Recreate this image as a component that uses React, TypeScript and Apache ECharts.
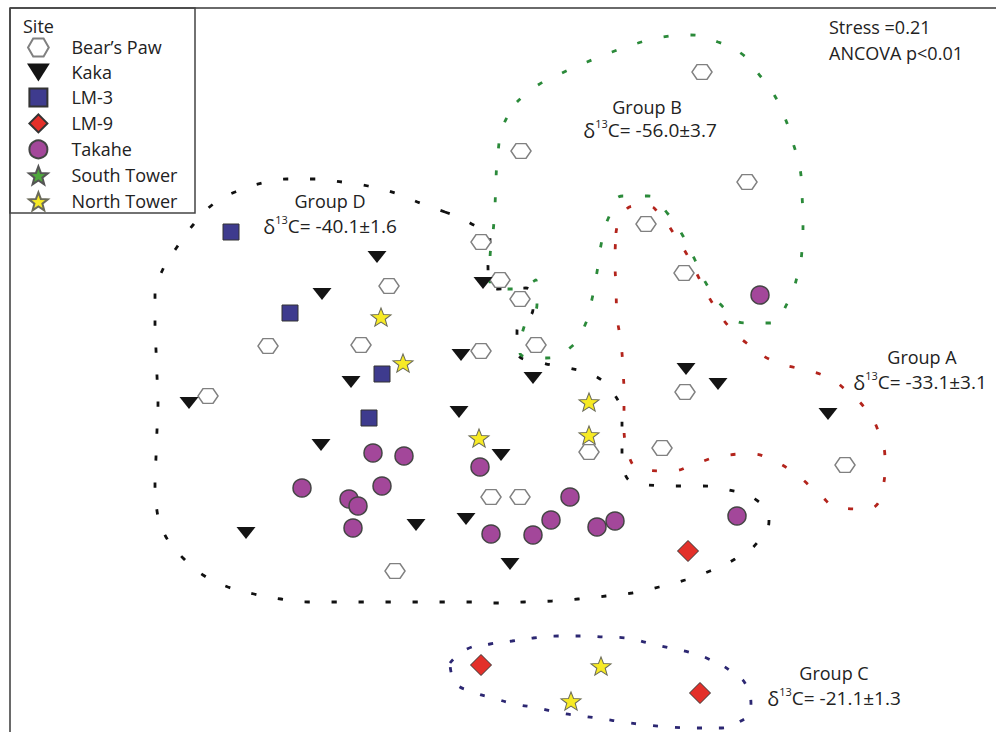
import React, { useEffect, useRef } from 'react';
import * as echarts from 'echarts';

// ---- Data (NMDS ordination, arbitrary plot units) ----
const siteNames = ['Bear’s Paw', 'Kaka', 'LM-3', 'LM-9', 'Takahe', 'South Tower', 'North Tower'];

const bearsPaw = [
  [208, 396], [268, 346], [389, 286], [361, 345], [481, 242], [500, 280], [520, 299],
  [481, 351], [536, 345], [521, 151], [702, 72], [747, 182], [646, 224], [684, 273],
  [685, 392], [662, 448], [589, 452], [491, 497], [520, 497], [395, 571], [845, 465],
];
const kaka = [
  [189, 403], [246, 533], [322, 294], [377, 257], [351, 382], [321, 445], [416, 525],
  [459, 412], [466, 519], [461, 355], [483, 283], [533, 378], [501, 455], [510, 564],
  [686, 369], [718, 384], [828, 414],
];
const lm3 = [[231, 232], [290, 313], [382, 374], [369, 418]];
const lm9 = [[688, 551], [481, 665], [700, 693]];
const takahe = [
  [373, 453], [404, 456], [302, 488], [349, 499], [358, 506], [382, 486], [353, 528],
  [480, 467], [491, 534], [533, 535], [551, 520], [570, 497], [597, 527], [615, 521],
  [737, 516], [760, 295],
];
const southTower: number[][] = [];
const northTower = [[381, 317], [403, 363], [479, 438], [589, 402], [589, 435], [601, 666], [571, 701]];

// Group envelopes (traced outlines)
const groupAHull = [
  [616, 233], [622, 215], [635, 206], [648, 206], [660, 215], [676, 237], [690, 260], [702, 284],
  [715, 307], [732, 330], [752, 347], [773, 361], [800, 369], [827, 377], [848, 392], [867, 411],
  [880, 436], [885, 462], [883, 488], [867, 509], [840, 508], [818, 493], [798, 476], [774, 461],
  [749, 454], [722, 456], [697, 463], [670, 471], [643, 470], [627, 449], [624, 423], [624, 396],
  [623, 370], [621, 343], [617, 315], [616, 288], [615, 260], [616, 233],
];
const groupBHull = [
  [517, 102], [538, 85], [562, 73], [587, 62], [612, 52], [638, 43], [663, 37], [690, 35],
  [718, 42], [742, 54], [757, 72], [773, 93], [785, 118], [793, 143], [800, 168], [802, 195],
  [803, 223], [802, 250], [797, 277], [788, 302], [770, 323], [745, 323], [723, 307], [707, 285],
  [695, 260], [683, 236], [668, 214], [648, 196], [623, 196], [608, 219], [601, 245], [597, 272],
  [592, 299], [585, 325], [571, 347], [546, 358], [520, 353], [524, 327], [537, 304], [536, 280],
  [512, 289], [490, 287], [490, 261], [493, 233], [495, 205], [496, 178], [498, 152], [503, 126],
  [517, 102],
];
const groupCHull = [
  [450, 663], [467, 649], [490, 644], [512, 641], [533, 638], [558, 636], [583, 636], [605, 637],
  [627, 638], [648, 643], [670, 648], [692, 653], [713, 661], [732, 672], [747, 687], [751, 708],
  [737, 723], [715, 728], [692, 728], [670, 727], [647, 725], [623, 722], [603, 719], [582, 716],
  [560, 713], [538, 708], [515, 704], [493, 698], [473, 692], [455, 682], [450, 663],
];
const groupDHull = [
  [445, 212], [470, 223], [490, 239], [488, 266], [498, 289], [526, 288], [533, 309], [517, 331],
  [518, 353], [543, 363], [569, 368], [595, 376], [614, 394], [622, 418], [622, 448], [625, 474],
  [648, 485], [676, 486], [702, 486], [729, 490], [755, 499], [769, 520], [757, 543], [735, 559],
  [710, 571], [685, 580], [659, 587], [632, 593], [606, 596], [578, 599], [552, 601], [524, 602],
  [497, 603], [470, 602], [443, 602], [416, 602], [388, 602], [362, 602], [335, 602], [308, 602],
  [281, 599], [254, 594], [228, 587], [203, 575], [183, 558], [166, 537], [157, 511], [155, 484],
  [156, 457], [157, 430], [158, 403], [157, 376], [156, 350], [155, 323], [155, 295], [163, 269],
  [177, 247], [193, 225], [212, 205], [235, 192], [262, 183], [287, 179], [313, 179], [342, 182],
  [368, 186], [395, 193], [420, 203], [445, 212],
];

const groupLabels = ['Group A', 'Group B', 'Group C', 'Group D'];
const groupDelta = ['-33.1±3.1', '-56.0±3.7', '-21.1±1.3', '-40.1±1.6'];
const statLines = ['Stress =0.21', 'ANCOVA p<0.01'];

// ---- Symbols ----
const HEX = 'path://M0,8.5L4.9,0L14.7,0L19.6,8.5L14.7,17L4.9,17Z';
const TRI = 'path://M0,0L19,0L9.5,15Z';
const SQ = 'path://M0,0L10,0L10,10L0,10Z';
const DIA = 'path://M5,0L10,5L5,10L0,5Z';
const STAR =
  'path://M50,0L62.34,33.01L97.55,34.55L69.97,56.49L79.39,90.45L50,71L20.61,90.45L30.03,56.49L2.45,34.55L37.66,33.01Z';

const FONT = '"Open Sans", "Liberation Sans", sans-serif';

export default function App() {
  const ref = useRef<HTMLDivElement>(null);

  useEffect(() => {
    if (!ref.current) return;
    const chart = echarts.init(ref.current, undefined, { renderer: 'svg' });

    const hull = (name: string, data: number[][], color: string, dash: number[]) => ({
      name,
      type: 'line',
      data,
      smooth: 0.5,
      symbol: 'none',
      silent: true,
      z: 1,
      lineStyle: { color, width: 2.8, type: dash, cap: 'butt' },
    });

    const sc = (name: string, data: number[][], symbol: string, symbolSize: any, itemStyle: any) => ({
      name,
      type: 'scatter',
      data,
      symbol,
      symbolSize,
      symbolKeepAspect: true,
      itemStyle: { opacity: 1, ...itemStyle },
      z: 3,
    });

    const deltaText = (x: number, y: number, val: string) => ({
      type: 'text',
      x,
      y,
      style: {
        text: `{d|δ}{s|13}{c|C= ${val}}`,
        align: 'center',
        verticalAlign: 'middle',
        fill: '#222',
        font: `19px ${FONT}`,
        rich: {
          d: { fontFamily: FONT, fontSize: 20, lineHeight: 24, fill: '#222' },
          s: { fontFamily: FONT, fontSize: 11, lineHeight: 11, verticalAlign: 'top', fill: '#222' },
          c: { fontFamily: FONT, fontSize: 19, lineHeight: 24, fill: '#222' },
        },
      },
    });

    const label = (x: number, y: number, text: string, align = 'center') => ({
      type: 'text',
      x,
      y,
      style: { text, align, verticalAlign: 'middle', fill: '#222', font: `18px ${FONT}` },
    });

    const option: any = {
      animation: false,
      backgroundColor: '#fff',
      grid: { left: 0, right: 0, top: 0, bottom: 0 },
      xAxis: { type: 'value', min: 0, max: 996, show: false },
      yAxis: { type: 'value', min: 0, max: 732, inverse: true, show: false },
      legend: {
        data: siteNames,
        orient: 'vertical',
        left: 27,
        top: 37.4,
        padding: 0,
        itemWidth: 56,
        itemHeight: 18,
        itemGap: 6,
        selectedMode: false,
        symbolKeepAspect: true,
        textStyle: { fontFamily: FONT, fontSize: 18, color: '#222', lineHeight: 18 },
      },
      graphic: [
        { type: 'line', shape: { x1: 10, y1: 8, x2: 996, y2: 8 }, style: { stroke: '#6a6a6a', lineWidth: 2 }, z: 0 },
        { type: 'line', shape: { x1: 10, y1: 8, x2: 10, y2: 732 }, style: { stroke: '#6a6a6a', lineWidth: 2 }, z: 0 },
        {
          type: 'rect',
          shape: { x: 10, y: 8, width: 185, height: 205 },
          style: { fill: 'none', stroke: '#444', lineWidth: 1.5 },
          z: 0,
        },
        label(23, 26, 'Site', 'left'),
        label(829, 27, statLines[0], 'left'),
        label(829, 53, statLines[1], 'left'),
        label(922, 357, groupLabels[0]),
        deltaText(920, 382, groupDelta[0]),
        label(647, 107, groupLabels[1]),
        deltaText(650, 130, groupDelta[1]),
        label(834, 673, groupLabels[2]),
        deltaText(834, 698, groupDelta[2]),
        label(330, 201, groupLabels[3]),
        deltaText(330, 226, groupDelta[3]),
      ],
      series: [
        hull('Group D', groupDHull, '#111', [5, 22]),
        hull('Group B', groupBHull, '#2b8a3a', [5, 22]),
        hull('Group A', groupAHull, '#b3241c', [5, 22]),
        hull('Group C', groupCHull, '#2c2772', [5, 17]),
        sc(siteNames[0], bearsPaw, HEX, [20, 17], { color: '#fff', borderColor: '#808080', borderWidth: 1.5 }),
        sc(siteNames[1], kaka, TRI, [19, 15], { color: '#141414', borderWidth: 0 }),
        sc(siteNames[2], lm3, SQ, [16, 16], { color: '#3e3b8e', borderColor: '#333', borderWidth: 1 }),
        sc(siteNames[3], lm9, DIA, [21, 21], { color: '#e3302a', borderColor: '#333', borderWidth: 1 }),
        sc(siteNames[4], takahe, 'circle', 18, { color: '#a3479a', borderColor: '#444', borderWidth: 1.5 }),
        sc(siteNames[5], southTower, STAR, [20, 19], { color: '#4fa83d', borderColor: '#555', borderWidth: 1 }),
        sc(siteNames[6], northTower, STAR, [20, 19], { color: '#f7ea24', borderColor: '#6b6b5a', borderWidth: 1 }),
      ],
    };

    chart.setOption(option);
    return () => chart.dispose();
  }, []);

  return (
    <div
      ref={ref}
      style={{ position: 'absolute', left: 0, top: 0, width: 996, height: 732, background: '#fff' }}
    />
  );
}
